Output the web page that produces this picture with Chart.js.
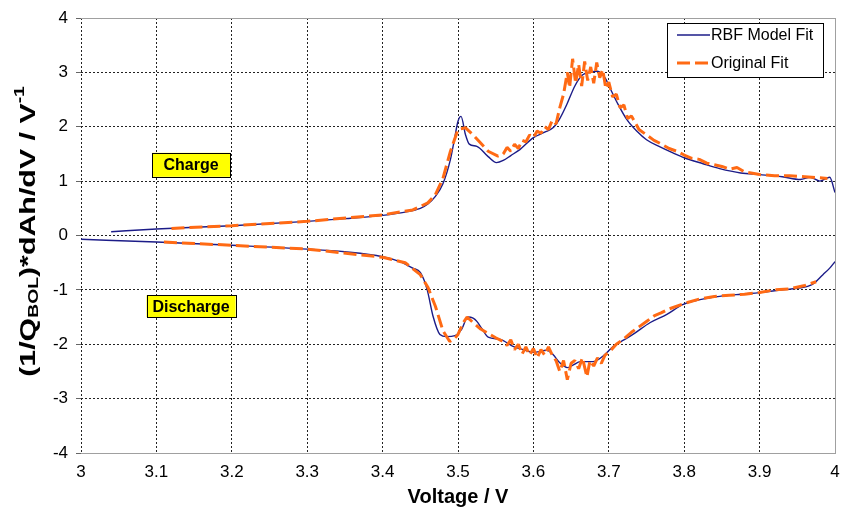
<!DOCTYPE html>
<html>
<head>
<meta charset="utf-8">
<script src="https://cdn.jsdelivr.net/npm/chart.js@4.4.1/dist/chart.umd.min.js"></script>
<style>
  body { margin: 0; background: #fff; }
  #wrap { width: 842px; height: 517px; }
</style>
</head>
<body>
<div id="wrap"><canvas id="dqdv" width="842" height="517"></canvas></div>
<script>
// charge branch, RBF model
var chargeModelV = [3.04, 3.1, 3.2, 3.3, 3.35, 3.4, 3.43, 3.45, 3.46, 3.47, 3.48, 3.49, 3.495, 3.5, 3.504,
  3.51, 3.515, 3.525, 3.54, 3.551, 3.56, 3.57, 3.582, 3.6, 3.615, 3.626, 3.635, 3.644, 3.655, 3.665,
  3.675, 3.685, 3.695, 3.702, 3.712, 3.724, 3.737, 3.75, 3.768, 3.785, 3.8, 3.825, 3.847, 3.875, 3.9,
  3.93, 3.954, 3.967, 3.98, 3.993, 4.0];
var chargeModel = [0.07, 0.12, 0.18, 0.26, 0.31, 0.37, 0.43, 0.5, 0.58, 0.72, 0.95, 1.4, 1.75, 2.1, 2.19,
  1.85, 1.68, 1.64, 1.45, 1.34, 1.38, 1.47, 1.58, 1.8, 1.9, 1.98, 2.15, 2.4, 2.75, 2.95,
  3.0, 3.02, 2.9, 2.7, 2.42, 2.13, 1.92, 1.76, 1.63, 1.52, 1.43, 1.32, 1.23, 1.15, 1.12,
  1.08, 1.03, 1.07, 1.0, 1.07, 0.79];

// charge branch, original fit
var chargeOrigV = [3.12, 3.2, 3.3, 3.4, 3.44, 3.46, 3.47, 3.48, 3.49, 3.5, 3.51, 3.52, 3.53, 3.54, 3.553,
  3.56, 3.565, 3.57, 3.575, 3.58, 3.585, 3.59, 3.595, 3.6, 3.605, 3.61, 3.615, 3.62, 3.625, 3.63,
  3.635, 3.64, 3.645, 3.648, 3.652, 3.656, 3.66, 3.664, 3.668, 3.672, 3.676, 3.68, 3.684, 3.688, 3.692,
  3.696, 3.7, 3.705, 3.71, 3.715, 3.72, 3.725, 3.73, 3.74, 3.75, 3.76, 3.77, 3.78, 3.79, 3.8,
  3.81, 3.82, 3.83, 3.84, 3.85, 3.86, 3.87, 3.88, 3.9, 3.92, 3.94, 3.96, 3.99];
var chargeOrig = [0.13, 0.18, 0.26, 0.38, 0.47, 0.6, 0.75, 1.05, 1.55, 1.95, 1.98, 1.85, 1.7, 1.55, 1.46,
  1.5, 1.62, 1.55, 1.68, 1.6, 1.75, 1.72, 1.85, 1.8, 1.92, 1.88, 2.0, 1.95, 2.12, 2.05,
  2.35, 2.6, 3.0, 2.72, 3.25, 2.8, 3.15, 2.75, 3.2, 2.85, 3.1, 2.8, 3.18, 2.9, 3.05,
  2.7, 2.82, 2.55, 2.6, 2.35, 2.4, 2.15, 2.2, 1.95, 1.85, 1.75, 1.68, 1.6, 1.55, 1.48,
  1.42, 1.4, 1.33, 1.3, 1.27, 1.22, 1.25, 1.17, 1.12, 1.1, 1.1, 1.08, 1.05];

// discharge branch, RBF model
var dischModelV = [3.0, 3.1, 3.2, 3.3, 3.35, 3.4, 3.423, 3.44, 3.45, 3.459, 3.467, 3.476, 3.485, 3.496,
  3.505, 3.513, 3.52, 3.525, 3.532, 3.54, 3.556, 3.573, 3.587, 3.6, 3.618, 3.626, 3.635, 3.645,
  3.653, 3.662, 3.679, 3.692, 3.706, 3.72, 3.732, 3.755, 3.777, 3.798, 3.821, 3.847, 3.875, 3.9,
  3.93, 3.95, 3.97, 3.984, 3.993, 4.0];
var dischModel = [-0.07, -0.12, -0.18, -0.25, -0.3, -0.39, -0.48, -0.6, -0.68, -0.99, -1.49, -1.82, -1.86, -1.84,
  -1.72, -1.5, -1.52, -1.58, -1.72, -1.87, -1.91, -2.04, -2.1, -2.15, -2.11, -2.19, -2.34, -2.43,
  -2.38, -2.32, -2.32, -2.22, -2.04, -1.92, -1.82, -1.6, -1.45, -1.27, -1.18, -1.12, -1.08, -1.05,
  -1.0, -0.97, -0.9, -0.72, -0.6, -0.48];

// discharge branch, original fit
var dischOrigV = [3.11, 3.2, 3.3, 3.4, 3.43, 3.45, 3.46, 3.47, 3.48, 3.489, 3.495, 3.5, 3.507, 3.512, 3.52,
  3.53, 3.54, 3.55, 3.56, 3.565, 3.57, 3.575, 3.58, 3.585, 3.59, 3.595, 3.6, 3.605, 3.61, 3.615,
  3.62, 3.625, 3.63, 3.635, 3.64, 3.645, 3.65, 3.655, 3.66, 3.665, 3.671, 3.675, 3.68, 3.685, 3.69,
  3.695, 3.7, 3.71, 3.72, 3.73, 3.74, 3.75, 3.76, 3.77, 3.78, 3.8, 3.82, 3.84, 3.86, 3.88,
  3.9, 3.92, 3.94, 3.96, 3.975];
var dischOrig = [-0.12, -0.18, -0.25, -0.4, -0.5, -0.72, -0.95, -1.3, -1.75, -1.95, -1.9, -1.82, -1.6, -1.5, -1.6,
  -1.72, -1.8, -1.88, -1.95, -2.02, -1.92, -2.1, -2.0, -2.18, -2.05, -2.2, -2.08, -2.25, -2.1, -2.2,
  -2.05, -2.2, -2.3, -2.5, -2.3, -2.65, -2.35, -2.3, -2.45, -2.25, -2.6, -2.3, -2.4, -2.25, -2.35,
  -2.2, -2.15, -2.0, -1.9, -1.78, -1.68, -1.58, -1.48, -1.42, -1.35, -1.25, -1.17, -1.12, -1.1, -1.08,
  -1.05, -1.0, -0.98, -0.92, -0.85];

// branch tags, placed in data units
var tags = [
  { text: 'Charge', v: 3.146, y: 1.3, w: 78, h: 24 },
  { text: 'Discharge', v: 3.146, y: -1.3, w: 89, h: 22 }
];

var BLUE = '#1c1c88';
var ORANGE = '#ff6a14';
var FONT = 'Liberation Sans, Arial, sans-serif';

function pts(vs, ys) {
  return vs.map(function (v, i) { return { x: v, y: ys[i] }; });
}

function modelSet(label, vs, ys) {
  return { label: label, data: pts(vs, ys), borderColor: BLUE, borderWidth: 1.4,
    pointRadius: 0, cubicInterpolationMode: 'monotone', order: 2 };
}
function origSet(label, vs, ys) {
  return { label: label, data: pts(vs, ys), borderColor: ORANGE, borderWidth: 3,
    borderDash: [13, 5], borderJoinStyle: 'bevel', pointRadius: 0, tension: 0, order: 1 };
}

// yellow labels, legend box and the axis titles (y one has sub/superscripts)
var extras = {
  id: 'extras',
  afterDatasetsDraw: function (chart) {
    var c = chart.ctx, a = chart.chartArea;
    var xs = chart.scales.x, ys = chart.scales.y;
    c.save();

    tags.forEach(function (t) {
      var cx = xs.getPixelForValue(t.v), cy = ys.getPixelForValue(t.y);
      c.fillStyle = '#ffff00';
      c.fillRect(cx - t.w / 2, cy - t.h / 2, t.w, t.h);
      c.strokeStyle = '#000';
      c.lineWidth = 1;
      c.strokeRect(Math.round(cx - t.w / 2) + 0.5, Math.round(cy - t.h / 2) + 0.5, t.w, t.h);
      c.fillStyle = '#000';
      c.font = 'bold 16px ' + FONT;
      c.textAlign = 'center';
      c.textBaseline = 'middle';
      c.fillText(t.text, cx, cy + 1);
    });

    // legend: one entry per distinct label
    var seen = {}, items = [];
    chart.data.datasets.forEach(function (d) {
      if (!seen[d.label]) { seen[d.label] = true; items.push(d); }
    });
    var bw = 156, bh = 54;
    var bx = a.right - 12 - bw, by = a.top + 5;
    c.fillStyle = '#fff';
    c.fillRect(bx, by, bw, bh);
    c.strokeStyle = '#000';
    c.lineWidth = 1;
    c.strokeRect(Math.round(bx) + 0.5, Math.round(by) + 0.5, bw, bh);
    items.forEach(function (d, i) {
      var ly = by + 12 + i * 28;
      c.strokeStyle = d.borderColor;
      c.lineWidth = d.borderWidth;
      c.setLineDash(d.borderDash || []);
      c.beginPath();
      c.moveTo(bx + 10, ly);
      c.lineTo(bx + 43, ly);
      c.stroke();
      c.setLineDash([]);
      c.fillStyle = '#000';
      c.font = '16px ' + FONT;
      c.textAlign = 'left';
      c.textBaseline = 'middle';
      c.fillText(d.label, bx + 44, ly + 1);
    });

    // y axis title, stretched along its length
    var parts = [
      { s: '(1/Q', size: 22, dy: 0 },
      { s: 'BOL', size: 14, dy: 5 },
      { s: ')*dAh/dV / V', size: 22, dy: 0 },
      { s: '-1', size: 14, dy: -9 }
    ];
    var total = 0;
    parts.forEach(function (p) {
      c.font = 'bold ' + p.size + 'px ' + FONT;
      p.w = c.measureText(p.s).width;
      total += p.w;
    });
    c.translate(29, (a.top + a.bottom) / 2 - 4);
    c.rotate(-Math.PI / 2);
    c.scale(1.38, 1);
    c.fillStyle = '#000';
    c.textAlign = 'left';
    c.textBaseline = 'middle';
    var px = -total / 2;
    parts.forEach(function (p) {
      c.font = 'bold ' + p.size + 'px ' + FONT;
      c.fillText(p.s, px, p.dy);
      px += p.w;
    });
    c.restore();

    c.save();
    c.fillStyle = '#000';
    c.font = 'bold 20px ' + FONT;
    c.textAlign = 'center';
    c.textBaseline = 'middle';
    c.fillText('Voltage / V', (a.left + a.right) / 2, 497);
    c.restore();
  }
};

function edgeColor(ctx) {
  return ctx.tick && ctx.tick.value === 4 ? '#a0a0a0' : '#222';
}
function edgeDash(ctx) {
  return ctx.tick && ctx.tick.value === 4 ? [] : [2, 2];
}

var chart = new Chart(document.getElementById('dqdv'), {
  type: 'line',
  data: {
    datasets: [
      modelSet('RBF Model Fit', chargeModelV, chargeModel),
      origSet('Original Fit', chargeOrigV, chargeOrig),
      modelSet('RBF Model Fit', dischModelV, dischModel),
      origSet('Original Fit', dischOrigV, dischOrig)
    ]
  },
  options: {
    responsive: false,
    animation: false,
    layout: { padding: { top: 18, right: 7, left: 0, bottom: 0 } },
    plugins: {
      legend: { display: false },
      tooltip: { enabled: false }
    },
    scales: {
      x: {
        type: 'linear',
        min: 3,
        max: 4,
        afterFit: function (s) { s.height = 64; s.paddingLeft = 0; s.paddingRight = 0; },
        grid: { color: edgeColor, lineWidth: 1, drawTicks: false },
        border: { display: true, color: '#a0a0a0', width: 1, dash: edgeDash },
        ticks: {
          stepSize: 0.1,
          padding: 9,
          color: '#000',
          font: { family: FONT, size: 17 },
          maxRotation: 0,
          autoSkip: false,
          callback: function (v) { return String(+v.toFixed(1)); }
        }
      },
      y: {
        min: -4,
        max: 4,
        afterFit: function (s) { s.width = 81; s.paddingTop = 0; s.paddingBottom = 0; },
        grid: { color: edgeColor, lineWidth: 1, tickLength: 5, tickColor: '#666', tickBorderDash: [] },
        border: { display: false, dash: edgeDash },
        ticks: {
          stepSize: 1,
          padding: 8,
          color: '#000',
          font: { family: FONT, size: 17 }
        }
      }
    }
  },
  plugins: [extras]
});
</script>
</body>
</html>
